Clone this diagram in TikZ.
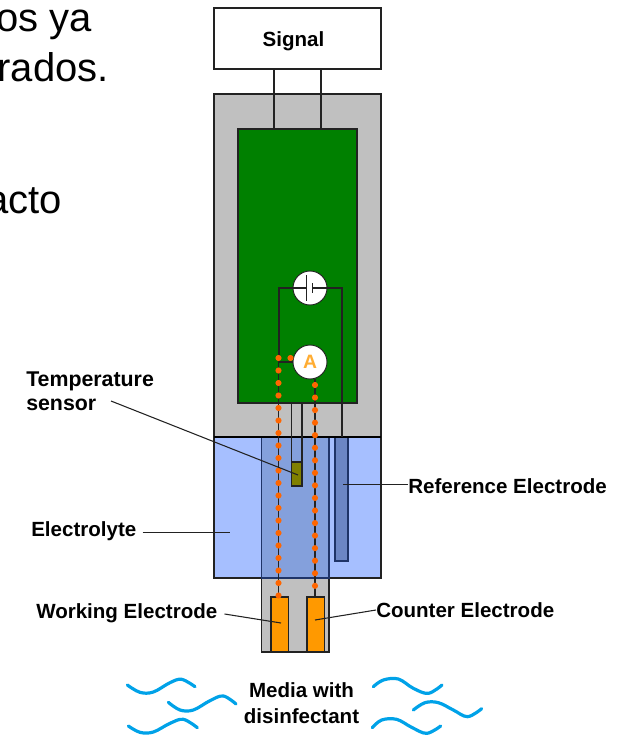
\documentclass[tikz,border=0pt]{standalone}
\usepackage{fontspec}
\setmainfont{Liberation Sans}
\definecolor{gbox}{HTML}{C0C0C0}
\definecolor{gpcb}{HTML}{008000}
\definecolor{elec}{HTML}{A6BFFF}
\definecolor{midb}{HTML}{84A0DC}
\definecolor{refb}{HTML}{6C86C4}
\definecolor{edge}{HTML}{1F3468}
\definecolor{oran}{HTML}{FF9900}
\definecolor{dotc}{HTML}{FF6600}
\definecolor{oliv}{HTML}{808000}
\definecolor{wave}{HTML}{00A2E8}
\definecolor{ink}{HTML}{222222}
\newcommand{\pxbox}[6]{\node[inner sep=0pt,outer sep=0pt,#2,minimum width=(#5-#3)*0.75pt,minimum height=(#6-#4)*0.75pt] (#1) at ({(#3+#5)/2},{(#4+#6)/2}) {};}
\tikzset{
  px/.style={draw=ink,line width=1.1pt},
  wire/.style={draw=ink,line width=1.1pt},
  lead/.style={draw=ink,line width=0.8pt},
  lbl/.style={font=\fontsize{15.4}{19.5}\selectfont\bfseries,text=black,inner sep=0pt,align=left},
  big/.style={font=\fontsize{30}{36}\selectfont,text=black,inner sep=0pt,anchor=base east},
  dot/.style={circle,fill=dotc,draw=none,inner sep=0pt,minimum size=4.6pt},
  meter/.style={circle,fill=white,draw=ink,line width=0.7pt,inner sep=0pt,minimum size=25.5pt},
  wv/.style={draw=wave,line width=2.4pt,line cap=round}
}
\begin{document}
\begin{tikzpicture}[x=0.75pt,y=-0.75pt]
\useasboundingbox (0,0) rectangle (621,735);
% top-left cropped text
\node[big] at (92,32) {os ya};
\node[big] at (109,82) {rados.};
\node[big] at (62,213) {acto};
% bodies
\pxbox{signal}{px,fill=white}{214}{8}{381}{69}
\pxbox{housing}{px,fill=gbox}{214}{94}{381}{437}
\pxbox{pcb}{px,fill=gpcb}{238}{129}{357}{403}
\pxbox{electrolyte}{px,fill=elec}{214}{437}{381}{578}
\pxbox{tip}{px,fill=gbox}{261.5}{578}{329}{652}
\pxbox{inner}{draw=edge,line width=1.4pt,fill=midb}{261.5}{437}{329}{578}
\pxbox{refel}{draw=edge,line width=1.4pt,fill=refb}{335}{437}{348}{561}
\pxbox{sensor}{px,fill=oliv}{291.5}{462}{302}{486}
\pxbox{workel}{px,fill=oran}{271}{597}{288.5}{652}
\pxbox{countel}{px,fill=oran}{307}{597}{324.5}{652}
\draw[draw=black,line width=2pt] (housing.south west) -- (housing.south east);
\node[lbl] at (293.5,41) {Signal};
% free wire coordinates
\coordinate (xa) at (274,0);
\coordinate (xb) at (321,0);
\coordinate (xl) at (279,0);
\coordinate (xr) at (342,0);
\coordinate (xs) at (291.5,0);
\coordinate (xt) at (302,0);
\coordinate (xwl) at (278.5,0);
\coordinate (xwr) at (315,0);
% wires
\draw[wire] (signal.south -| xa) -- (pcb.north -| xa);
\draw[wire] (signal.south -| xb) -- (pcb.north -| xb);
\node[meter] (batt) at (310,288) {};
\node[meter] (amm) at (310,362) {};
\draw[wire] (batt.west) -- (batt.west -| xl) -- (amm.west -| xl) -- (amm.west);
\draw[wire] (batt.east) -- (batt.east -| xr) -- (housing.south -| xr);
\draw[wire] (pcb.south -| xs) -- (sensor.north west);
\draw[wire] (pcb.south -| xt) -- (sensor.north east);
\draw[wire] (amm.west -| xwl) -- (workel.north -| xwl);
\draw[wire] (amm.south -| xwr) -- (countel.north -| xwr);
% battery symbol and meter text
\draw[wire] (batt.west) -- ++(14,0) coordinate (bp1);
\draw[wire] (bp1) ++(0,-13) -- ++(0,26);
\draw[wire] (batt.east) -- ++(-15,0) coordinate (bp2);
\draw[wire] (bp2) ++(0,-5) -- ++(0,10);
\node[font=\fontsize{14.5}{17}\selectfont\bfseries,text=oran!80!white,inner sep=0pt] at (amm) {A};
% dotted current paths
\foreach \i in {0,...,19}{\node[dot] (dl\i) at (278.5,{358+12.5*\i}) {};}
\foreach \i in {0,...,16}{\node[dot] (dr\i) at (315,{385+12.55*\i}) {};}
\node[dot] (dh) at (290.5,358) {};
% labels
\node[lbl,font=\fontsize{16}{18}\selectfont\bfseries,anchor=north west] (ltemp) at (26,372) {Temperature\\sensor};
\node[lbl,anchor=west] (lelyt) at (31,531) {Electrolyte};
\node[lbl,anchor=west] (lref) at (408,486) {Reference Electrode};
\node[lbl,anchor=west] (lwork) at (36,613) {Working Electrode};
\node[lbl,anchor=west] (lcount) at (376,610) {Counter Electrode};
\node[lbl,align=center] (lmedia) at (301.5,703) {Media with\\disinfectant};
% leaders
\coordinate (ptemp) at (298,475);
\coordinate (pelyt) at (230,532.5);
\coordinate (pref) at (343,484.5);
\coordinate (pwork) at (281,623);
\coordinate (pcount) at (315,620);
\draw[lead] (111,401) -- (ptemp);
\draw[lead] (lelyt.east) ++(6,1.5) -- (pelyt);
\draw[lead] (pref) -- (pref -| lref.west);
\draw[lead] (lwork.east) ++(7,1) -- (pwork);
\draw[lead] (lcount.west) -- (pcount);
% waves
\begin{scope}[shift={(110,660)},x=0.25pt,y=-0.25pt]
\draw[wv] plot[smooth,tension=0.6] coordinates {(52,75) (90,97) (130,96) (180,68) (215,58) (255,80)};
\draw[wv] plot[smooth,tension=0.6] coordinates {(175,127) (210,150) (250,150) (300,122) (340,108) (378,132)};
\draw[wv] plot[smooth,tension=0.6] coordinates {(55,198) (90,217) (130,216) (180,190) (220,178) (262,203)};
\draw[wv] plot[smooth,tension=0.6] coordinates {(790,80) (820,60) (865,57) (910,85) (955,100) (996,75)};
\draw[wv] plot[smooth,tension=0.6] coordinates {(910,150) (945,128) (985,128) (1030,150) (1073,170) (1115,146)};
\draw[wv] plot[smooth,tension=0.6] coordinates {(787,203) (815,180) (860,178) (905,202) (950,220) (992,198)};
\end{scope}
\end{tikzpicture}
\end{document}
